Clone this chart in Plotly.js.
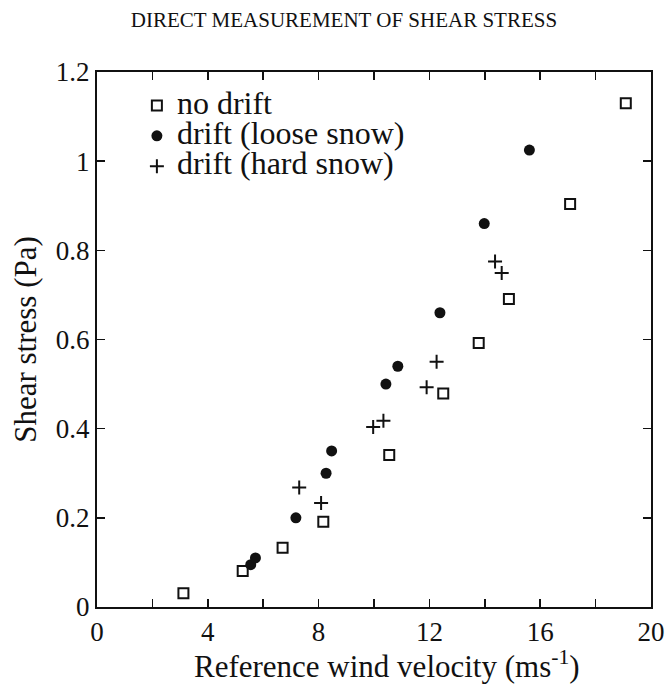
<!DOCTYPE html>
<html><head><meta charset="utf-8">
<script src="https://cdn.plot.ly/plotly-3.0.1.min.js"></script>
<style>body{margin:0;background:#fff}#c{width:669px;height:687px}</style>
</head><body><div id="c"></div>
<script>
const noDriftX = [3.12, 5.26, 6.70, 8.17, 10.55, 12.50, 13.78, 14.87, 17.08, 19.09];
const noDriftY = [0.031, 0.081, 0.133, 0.191, 0.341, 0.479, 0.592, 0.691, 0.904, 1.13];
const looseX = [5.55, 5.72, 7.18, 8.27, 8.47, 10.43, 10.86, 12.38, 13.98, 15.61];
const looseY = [0.095, 0.11, 0.20, 0.30, 0.35, 0.50, 0.54, 0.66, 0.86, 1.025];
const hardX = [7.30, 8.09, 9.97, 10.34, 11.90, 12.26, 14.37, 14.61];
const hardY = [0.268, 0.233, 0.404, 0.418, 0.493, 0.550, 0.775, 0.749];
const seriesNames = ['no drift', 'drift (loose snow)', 'drift (hard snow)'];
const xTicks = [0, 4, 8, 12, 16, 20];
const yTicks = [0, 0.2, 0.4, 0.6, 0.8, 1, 1.2];
const ink = '#111';
const serif = "'Liberation Serif', 'Times New Roman', Times, serif";
const big = s => '<span style="font-size:32px">' + s + '</span>';

const traces = [
  {x: noDriftX, y: noDriftY, mode: 'markers', type: 'scatter', name: big(seriesNames[0]),
   marker: {symbol: 'square-open', size: 10, color: ink, line: {width: 2, color: ink}}},
  {x: looseX, y: looseY, mode: 'markers', type: 'scatter', name: big(seriesNames[1]),
   marker: {symbol: 'circle', size: 11, color: ink}},
  {x: hardX, y: hardY, mode: 'markers', type: 'scatter', name: big(seriesNames[2]),
   marker: {symbol: 'cross-thin-open', size: 10, color: ink, line: {width: 2, color: ink}}}
];
const axBase = {
  showgrid: false, zeroline: false, showline: true, linecolor: ink, linewidth: 2,
  mirror: 'allticks', ticks: 'inside', ticklen: 8, tickwidth: 1.5, tickcolor: ink,
  tickfont: {family: serif, size: 27, color: ink}
};
const layout = {
  width: 669, height: 687,
  margin: {l: 97, r: 18, t: 72, b: 80},
  paper_bgcolor: '#fff', plot_bgcolor: '#fff',
  font: {family: serif, color: ink, size: 14},
  title: {text: 'DIRECT MEASUREMENT OF SHEAR STRESS', x: 344 / 669, xanchor: 'center',
          y: 1 - 20 / 687, yanchor: 'middle',
          font: {family: serif, size: 21, color: ink}},
  xaxis: Object.assign({}, axBase, {range: [0, 20], tickvals: xTicks, ticktext: xTicks.map(String),
          minor: {ticks: 'inside', ticklen: 8, tickwidth: 1.5, tickcolor: ink, dtick: 2}}),
  yaxis: Object.assign({}, axBase, {range: [0, 1.2], tickvals: yTicks, ticktext: yTicks.map(String),
          title: {text: 'Shear stress (Pa)', standoff: 10, font: {family: serif, size: 31, color: ink}}}),
  annotations: [{text: 'Reference wind velocity (ms<sup>-1</sup>)', xref: 'paper', yref: 'paper',
                 x: (387 - 97) / 554, y: -(664 - 607) / 535, xanchor: 'center', yanchor: 'middle',
                 showarrow: false, font: {family: serif, size: 31, color: ink}}],
  showlegend: true,
  legend: {x: 0.072, y: 0.975, xanchor: 'left', yanchor: 'top', bgcolor: 'rgba(0,0,0,0)',
           font: {family: serif, size: 21, color: ink}, tracegroupgap: 0, itemwidth: 30}
};
Plotly.newPlot('c', traces, layout, {displayModeBar: false, staticPlot: true});
</script></body></html>
